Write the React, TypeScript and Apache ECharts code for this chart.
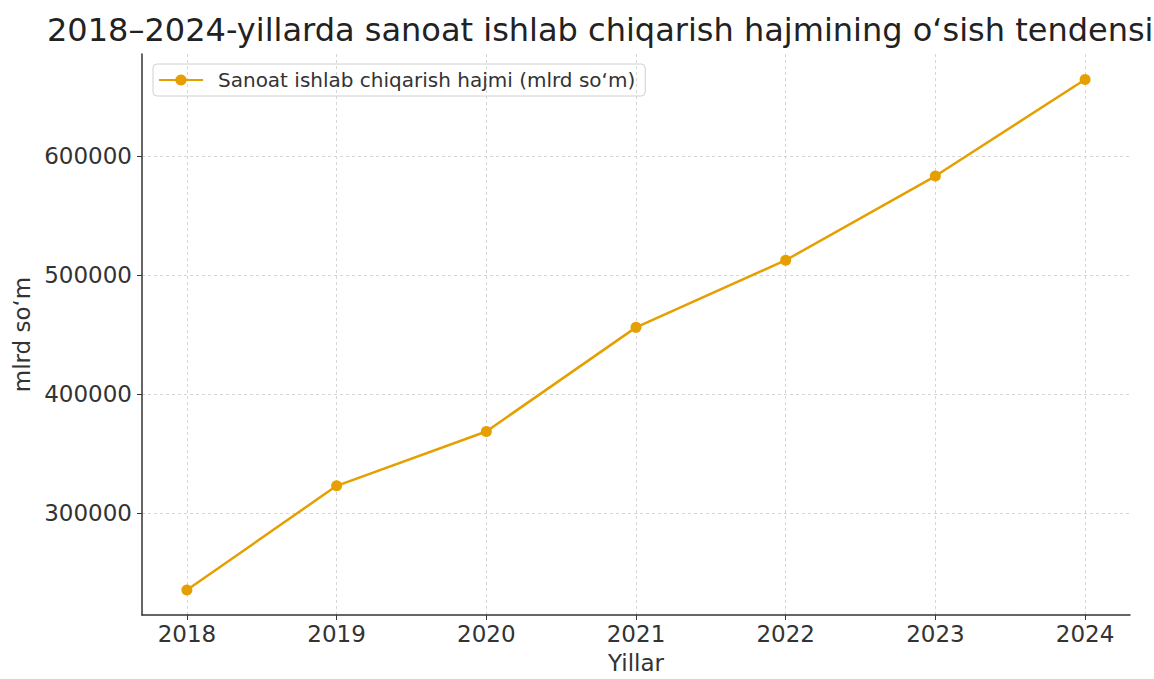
import React, { useEffect, useRef } from "react";
import * as echarts from "echarts";

const years = [2018, 2019, 2020, 2021, 2022, 2023, 2024];
const values = [235000, 322700, 368400, 456000, 512500, 583300, 664500];
const titleText = "2018–2024-yillarda sanoat ishlab chiqarish hajmining o‘sish tendensiyasi";
const seriesName = "Sanoat ishlab chiqarish hajmi (mlrd so‘m)";
const xName = "Yillar";
const yName = "mlrd so‘m";

export default function App() {
  const ref = useRef<HTMLDivElement>(null);
  useEffect(() => {
    if (!ref.current) return;
    const chart = echarts.init(ref.current, null, { renderer: "svg" });
    const font = "DejaVu Sans";
    const gridLine = { show: true, lineStyle: { color: "#d6d6d6", type: [3, 3], width: 1 }, showMinLine: false, showMaxLine: false };
    chart.setOption({
      animation: false,
      backgroundColor: "#ffffff",
      textStyle: { fontFamily: font },
      title: {
        text: titleText,
        left: 42,
        top: 9,
        textStyle: { fontFamily: font, fontSize: 32, fontWeight: "normal", color: "#222" },
      },
      legend: {
        left: 153,
        top: 64,
        itemWidth: 44,
        itemHeight: 14,
        padding: [6, 10, 6, 5],
        borderColor: "#d0d0d0",
        borderWidth: 1,
        borderRadius: 4,
        textStyle: { fontFamily: font, fontSize: 20, color: "#333", padding: [0, 0, 0, 10] },
        data: [{ name: seriesName }],
      },
      grid: { left: 142, right: 24, top: 54, bottom: 57, containLabel: false },
      xAxis: {
        type: "value",
        min: 2017.7,
        max: 2024.3,
        minInterval: 1,
        maxInterval: 1,
        name: xName,
        nameLocation: "middle",
        nameGap: 36,
        nameTextStyle: { fontFamily: font, fontSize: 23, color: "#333" },
        axisLine: { show: true, onZero: false, lineStyle: { color: "#333", width: 1.5 } },
        axisTick: { show: true, length: 5, lineStyle: { color: "#333" } },
        axisLabel: { showMinLabel: false, showMaxLabel: false, fontFamily: font, fontSize: 23, color: "#333", margin: 7, formatter: (v: number) => String(Math.round(v)) },
        splitLine: gridLine,
      },
      yAxis: {
        type: "value",
        min: 214000,
        max: 686000,
        splitNumber: 5,
        name: yName,
        nameLocation: "middle",
        nameGap: 108,
        nameTextStyle: { fontFamily: font, fontSize: 23, color: "#333" },
        axisLine: { show: true, onZero: false, lineStyle: { color: "#333", width: 1.5 } },
        axisTick: { show: true, length: 5, lineStyle: { color: "#333" } },
        axisLabel: { showMinLabel: false, showMaxLabel: false, fontFamily: font, fontSize: 23, color: "#333", margin: 10, formatter: (v: number) => String(Math.round(v)) },
        splitLine: gridLine,
      },
      series: [
        {
          name: seriesName,
          type: "line",
          data: years.map((y, i) => [y, values[i]]),
          color: "#E69F00",
          lineStyle: { width: 2.5, color: "#E69F00" },
          symbol: "circle",
          symbolSize: 11,
          itemStyle: { color: "#E69F00" },
        },
      ],
    });
    return () => chart.dispose();
  }, []);
  return <div ref={ref} style={{ width: 1154, height: 679, position: "absolute", left: 0, top: 0 }} />;
}
